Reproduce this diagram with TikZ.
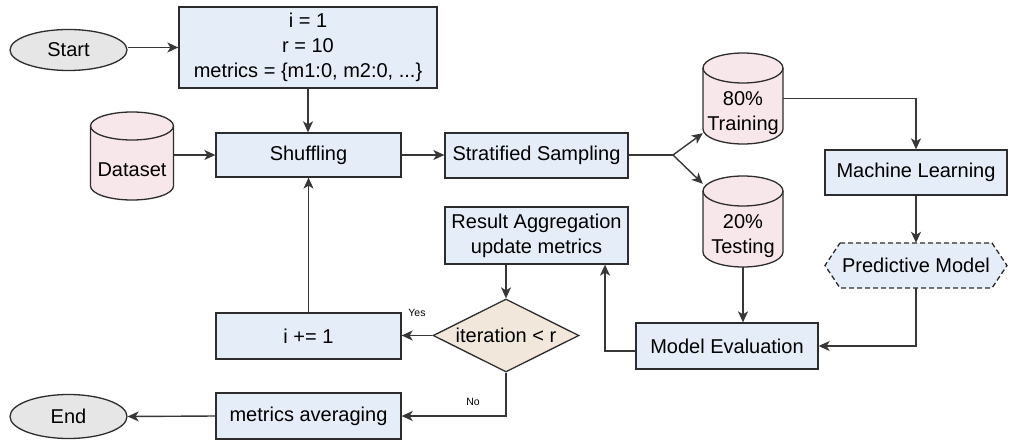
\documentclass[tikz,border=0pt]{standalone}
\usepackage{fontspec}
\setmainfont{Liberation Sans}
\usetikzlibrary{arrows.meta,shapes.geometric,calc}
\definecolor{boxfill}{RGB}{229,237,248}
\definecolor{cylfill}{RGB}{248,231,234}
\definecolor{decfill}{RGB}{241,231,219}
\definecolor{ovalfill}{RGB}{230,230,230}
\definecolor{edge}{RGB}{45,45,45}
\definecolor{conn}{RGB}{55,55,55}
\tikzset{
  base/.style={font=\fontsize{20}{25}\selectfont, align=center, inner sep=0pt},
  procbox/.style={base, draw=edge, fill=boxfill, line width=1.3pt, rectangle},
  oval/.style={base, draw=edge, fill=ovalfill, line width=1.3pt, ellipse, minimum width=117pt, minimum height=41pt},
  anchorbox/.style={rectangle, draw=none, fill=none, inner sep=0pt},
  cylshape/.style={draw=edge, fill=cylfill, line width=1.3pt},
  decshape/.style={base, draw=edge, fill=decfill, line width=1.3pt, diamond, aspect=2, minimum width=146pt, minimum height=73pt},
  hexshape/.style={draw=edge, fill=boxfill, line width=1.3pt, dashed, dash pattern=on 5pt off 3pt},
  lbl/.style={base},
  small/.style={font=\fontsize{10.5}{12}\selectfont, inner sep=0pt},
  arr/.style={draw=conn, line width=1.4pt, -{Stealth[length=11pt,width=10pt,inset=3pt]}},
  ln/.style={draw=conn, line width=1.4pt},
}
\begin{document}
\begin{tikzpicture}[x=1pt,y=1pt]
\useasboundingbox (0,0) rectangle (1011,-441);

% ovals
\node[oval] (start) at (68.5,-50) {Start};
\node[oval, minimum height=44pt] (end) at (68.5,-416.5) {End};

% process boxes
\node[procbox, minimum width=258pt, minimum height=81pt] (init) at (308,-47.5) {i = 1\\r = 10\\metrics = \{m1:0, m2:0, ...\}};
\node[procbox, minimum width=185pt, minimum height=44pt] (shuffle) at (308.5,-155) {Shuffling};
\node[procbox, minimum width=183pt, minimum height=45pt] (strat) at (536.5,-155.5) {Stratified Sampling};
\node[procbox, minimum width=182pt, minimum height=45pt] (ml) at (916,-172.5) {Machine Learning};
\node[procbox, minimum width=182pt, minimum height=46pt] (me) at (727,-346) {Model Evaluation};
\node[procbox, minimum width=183pt, minimum height=57pt] (ra) at (536.5,-235.5) {Result Aggregation\\update metrics};
\node[procbox, minimum width=185pt, minimum height=46pt] (inc) at (308.5,-336) {i += 1};
\node[procbox, minimum width=185pt, minimum height=46pt] (avg) at (308.5,-416) {metrics averaging};

% decision
\node[decshape, label={[lbl]center:iteration < r}] (dec) at (506,-335.5) {};

% predictive model hexagon
\path[hexshape] (840,-243) -- (992,-243) -- (1007,-265.5) -- (992,-288) -- (840,-288) -- (825,-265.5) -- cycle;
\node[anchorbox, minimum width=182pt, minimum height=45pt] (pm) at (916,-265.5) {};
\node[lbl] (pmtext) at (916,-265.5) {Predictive Model};

% cylinders
\path[cylshape] (90.5,-126) -- (90.5,-186) arc[start angle=180,end angle=360,x radius=41.5,y radius=14] -- (173.5,-126) arc[start angle=0,end angle=180,x radius=41.5,y radius=14] -- cycle;
\draw[edge, line width=1.3pt] (90.5,-126) arc[start angle=180,end angle=360,x radius=41.5,y radius=14];
\node[anchorbox, minimum width=83pt, minimum height=88pt] (data) at (132,-156) {};
\node[lbl] (datatext) at (132,-170) {Dataset};

\path[cylshape] (703,-68) -- (703,-129) arc[start angle=180,end angle=360,x radius=40,y radius=15] -- (783,-68) arc[start angle=0,end angle=180,x radius=40,y radius=15] -- cycle;
\draw[edge, line width=1.3pt] (703,-68) arc[start angle=180,end angle=360,x radius=40,y radius=15];
\node[anchorbox, minimum width=80pt, minimum height=91pt] (train) at (743,-98.5) {};
\node[lbl] (traintext) at (743,-113) {80\%\\Training};

\path[cylshape] (703,-191) -- (703,-252) arc[start angle=180,end angle=360,x radius=40,y radius=15] -- (783,-191) arc[start angle=0,end angle=180,x radius=40,y radius=15] -- cycle;
\draw[edge, line width=1.3pt] (703,-191) arc[start angle=180,end angle=360,x radius=40,y radius=15];
\node[anchorbox, minimum width=80pt, minimum height=91pt] (test) at (743,-221.5) {};
\node[lbl] (testtext) at (743,-236) {20\%\\Testing};

% connectors
\draw[arr] (start.east |- init.west) -- (init.west);
\draw[arr] (init.south) -- (init.south |- shuffle.north);
\draw[arr] (data.east |- shuffle.west) -- (shuffle.west);
\draw[arr] (shuffle.east) -- (strat.west |- shuffle.east);
\coordinate (split) at (673,-155);
\draw[ln] (strat.east |- split) -- (split);
\draw[arr] (split) -- ([yshift=11pt]train.south west);
\draw[arr] (split) -- ([yshift=-8pt]test.north west);
\draw[arr] (train.east) -| (ml.north);
\draw[arr] (ml.south) -- (pm.north);
\draw[arr] (pm.south) |- (me.east);
\draw[arr] (test.south) -- (test.south |- me.north);
\draw[arr] ([yshift=-5pt]me.west) -| ([xshift=68.5pt]ra.south);
\draw[arr] (dec.north |- ra.south) -- (dec.north);
\draw[arr] (dec.west) -- (inc.east |- dec.west);
\draw[arr] (inc.north) -- (shuffle.south);
\draw[arr] (dec.south) |- (avg.east);
\draw[arr] (avg.west) -- (end.east);

% edge labels
\node[small] (yes) at (417,-313) {Yes};
\node[small] (no) at (473,-402) {No};
\end{tikzpicture}
\end{document}
